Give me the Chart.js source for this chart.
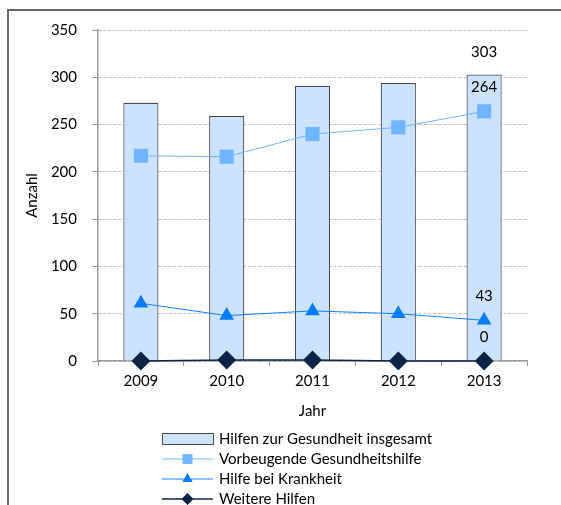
<!DOCTYPE html>
<html>
<head>
<meta charset="utf-8">
<script src="https://cdn.jsdelivr.net/npm/chart.js@4"></script>
<style>
  body { margin: 0; background: #fff; }
  #wrap { position: relative; width: 561px; height: 505px; overflow: hidden; }
  #frame { position: absolute; left: 7px; top: 9px; width: 700px; height: 700px;
           border-left: 2px solid #666; border-top: 2px solid #666; }
  #myChart { position: absolute; left: 0; top: 0; }
</style>
</head>
<body>
<div id="wrap">
  <div id="frame"></div>
  <canvas id="myChart" width="561" height="505"></canvas>
</div>
<script>
var years = ["2009", "2010", "2011", "2012", "2013"];
var insgesamt = [273, 259, 291, 294, 303];
var vorbeugende = [217, 216, 240, 247, 264];
var krankheit = [61, 48, 53, 50, 43];
var weitere = [0, 1, 1, 0, 0];
var yTicks = [0, 50, 100, 150, 200, 250, 300, 350];

Chart.defaults.font.family = "Lato";
Chart.defaults.font.size = 15;
Chart.defaults.color = "#000";

// value labels only for the last year
var lastLabels = {
    id: "lastLabels",
    afterDatasetsDraw: function (chart) {
        var ctx = chart.ctx;
        ctx.save();
        ctx.font = "15px Lato";
        ctx.fillStyle = "#000";
        ctx.textAlign = "center";
        ctx.textBaseline = "middle";
        chart.data.datasets.forEach(function (ds, i) {
            var meta = chart.getDatasetMeta(i);
            var last = ds.data.length - 1;
            var el = meta.data[last];
            var off = ds.type == "bar" ? 22 : 24;
            ctx.fillText(String(ds.data[last]), el.x, el.y - off);
        });
        ctx.restore();
    }
};

// legend stacked one per row
var stackLegend = {
    id: "stackLegend",
    afterDraw: function (chart) {
        var ctx = chart.ctx;
        var x0 = 162, x1 = 213, tx = 219;
        var rowY = [439, 459, 479, 499];
        ctx.save();
        chart.data.datasets.forEach(function (ds, i) {
            var y = rowY[i];
            if (ds.type == "bar") {
                ctx.fillStyle = ds.backgroundColor;
                ctx.strokeStyle = ds.borderColor;
                ctx.lineWidth = 1;
                ctx.fillRect(x0, y - 6, x1 - x0, 12);
                ctx.strokeRect(x0 + 0.5, y - 5.5, x1 - x0, 11);
            } else {
                ctx.strokeStyle = ds.borderColor;
                ctx.lineWidth = ds.borderWidth;
                ctx.beginPath();
                ctx.moveTo(x0, y);
                ctx.lineTo(x1, y);
                ctx.stroke();
                ctx.fillStyle = ds.pointBackgroundColor;
                Chart.helpers.drawPoint(ctx, {
                    pointStyle: ds.pointStyle,
                    radius: ds.legendRadius,
                    rotation: 0,
                    borderWidth: 0
                }, (x0 + x1) / 2, y);
            }
            ctx.fillStyle = "#000";
            ctx.font = "15px Lato";
            ctx.textAlign = "left";
            ctx.textBaseline = "middle";
            ctx.fillText(ds.label, tx, y);
        });
        ctx.restore();
    }
};

var chart = new Chart("myChart", {
    type: "bar",
    data: {
        labels: years,
        datasets: [{
            type: "bar",
            label: "Hilfen zur Gesundheit insgesamt",
            data: insgesamt,
            backgroundColor: "#cce3fd",
            borderColor: "#4a4a4a",
            borderWidth: 1.2,
            categoryPercentage: 1,
            barPercentage: 0.41,
            order: 10
        }, {
            type: "line",
            label: "Vorbeugende Gesundheitshilfe",
            data: vorbeugende,
            borderColor: "#70b5ff",
            borderWidth: 1,
            pointStyle: "rect",
            pointRadius: 10,
            pointBackgroundColor: "#70b5ff",
            pointBorderWidth: 0,
            legendRadius: 7,
            clip: false,
            order: 3
        }, {
            type: "line",
            label: "Hilfe bei Krankheit",
            data: krankheit,
            borderColor: "#1580f5",
            borderWidth: 1,
            pointStyle: "triangle",
            pointRadius: 8.5,
            pointBackgroundColor: "#0a7df5",
            pointBorderWidth: 0,
            legendRadius: 6,
            clip: false,
            order: 2
        }, {
            type: "line",
            label: "Weitere Hilfen",
            data: weitere,
            borderColor: "#0c2448",
            borderWidth: 1.5,
            pointStyle: "rectRot",
            pointRadius: 9.5,
            pointBackgroundColor: "#0c2448",
            pointBorderWidth: 0,
            legendRadius: 6,
            clip: false,
            order: 1
        }]
    },
    options: {
        responsive: false,
        animation: false,
        events: [],
        layout: { padding: { left: 19, top: 30, right: 34, bottom: 81 } },
        plugins: {
            legend: { display: false },
            tooltip: { enabled: false }
        },
        scales: {
            x: {
                afterFit: function (s) { s.height = 63; },
                grid: { drawOnChartArea: false, drawTicks: true, tickLength: 5, tickColor: "#999", offset: true },
                border: { color: "#999", width: 1.5 },
                ticks: { padding: 6, color: "#000" },
                title: { display: true, text: "Jahr", color: "#000", font: { size: 15 } }
            },
            y: {
                min: 0,
                max: 350,
                afterFit: function (s) { s.width = 79; },
                afterBuildTicks: function (s) {
                    s.ticks = yTicks.map(function (v) { return { value: v }; });
                },
                grid: { color: "#bdbdbd", lineWidth: 1, tickLength: 6, tickColor: "#999", tickBorderDash: [] },
                border: { color: "#999", width: 1.5, dash: [3, 2] },
                ticks: { padding: 15, color: "#000" },
                title: { display: true, text: "Anzahl", color: "#000", font: { size: 15 } }
            }
        }
    },
    plugins: [lastLabels, stackLegend]
});
</script>
</body>
</html>
